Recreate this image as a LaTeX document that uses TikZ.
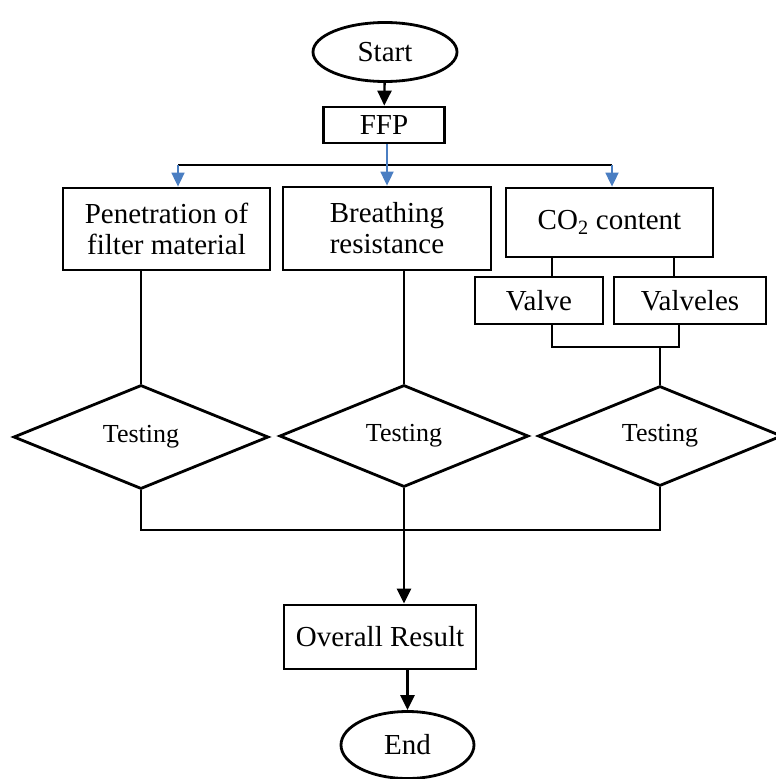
\documentclass[tikz,border=0pt]{standalone}
\usepackage{fontspec}
\setmainfont{Liberation Serif}
\usetikzlibrary{shapes.geometric,arrows.meta}

\definecolor{flowblue}{HTML}{4A7EC2}

\tikzset{
  every node/.style={font=\fontsize{29}{31}\selectfont, inner sep=0pt},
  box/.style={draw, line width=2.8pt, rectangle, align=center},
  term/.style={draw, line width=2.8pt, ellipse},
  decide/.style={draw, line width=2.8pt, diamond, font=\fontsize{26}{29}\selectfont},
  link/.style={line width=2.4pt},
  flow/.style={line width=2.4pt, -{Triangle[length=15pt,width=14pt]}},
  bluflow/.style={draw=flowblue, line width=1.8pt, -{Triangle[length=14pt,width=13pt]}, color=flowblue},
}

\begin{document}
\begin{tikzpicture}[x=1pt, y=-1pt]
\useasboundingbox (0,0) rectangle (776,779);

% terminals and process boxes
\node[term, minimum width=144pt, minimum height=59pt] (start) at (385,52) {Start};
\node[box, minimum width=121pt, minimum height=36pt] (ffp) at (384,125) {FFP};

\node[box, minimum width=207pt, minimum height=82pt] (pen) at (166.5,229) {Penetration of\\filter material};
\node[box, minimum width=208pt, minimum height=83pt] (bre) at (387,228.5) {Breathing\\resistance};
\node[box, minimum width=207pt, minimum height=69pt] (co2) at (609.5,222.5) {CO\textsubscript{2} content};

\node[box, minimum width=128pt, minimum height=47pt] (valve) at (539,300.5) {Valve};
\node[box, minimum width=152pt, minimum height=47pt] (valveles) at (690,300.5) {Valveles};

% decisions
\node[decide, minimum width=255pt, minimum height=104pt] (t1) at (141,437) {Testing};
\node[decide, minimum width=249pt, minimum height=102pt] (t2) at (404,436) {Testing};
\node[decide, minimum width=244pt, minimum height=100pt] (t3) at (660,436) {Testing};

\node[box, minimum width=192pt, minimum height=64pt] (overall) at (380,637) {Overall Result};
\node[term, minimum width=133pt, minimum height=67pt] (end) at (407.5,745) {End};

% helper points for the buses
\coordinate (busL) at (178,165);
\coordinate (busR) at (612,165);
\coordinate (splitA) at (552,0);
\coordinate (splitB) at (674,0);
\coordinate (joinL) at (552,347);
\coordinate (joinR) at (679,347);
\coordinate (joinM) at (660,347);
\coordinate (bus) at (0,530);

% start to FFP
\draw[flow] (start) -- (ffp);

% distribution from FFP
\draw[link] (busL) -- (busR);
\draw[bluflow] (busL) -- (busL |- pen.north);
\draw[bluflow] (ffp.south -| bre.north) -- (bre.north);
\draw[bluflow] (busR) -- (busR |- co2.north);

% CO2 branch
\draw[link] (splitA |- co2.south) -- (splitA |- valve.north);
\draw[link] (splitB |- co2.south) -- (splitB |- valveles.north);
\draw[link] (joinL |- valve.south) -- (joinL) -- (joinR) -- (joinR |- valveles.south);
\draw[link] (joinM) -- (t3.north);

% into the tests
\draw[link] (t1.north |- pen.south) -- (t1.north);
\draw[link] (t2.north |- bre.south) -- (t2.north);

% collecting bus
\draw[link] (t1.south) -- (t1.south |- bus) -- (t3.south |- bus) -- (t3.south);
\draw[link] (t2.south) -- (t2.south |- bus);
\draw[flow] (t2.south |- bus) -- (t2.south |- overall.north);

% result to end
\draw[flow] (end.north |- overall.south) -- (end.north);
\end{tikzpicture}
\end{document}
